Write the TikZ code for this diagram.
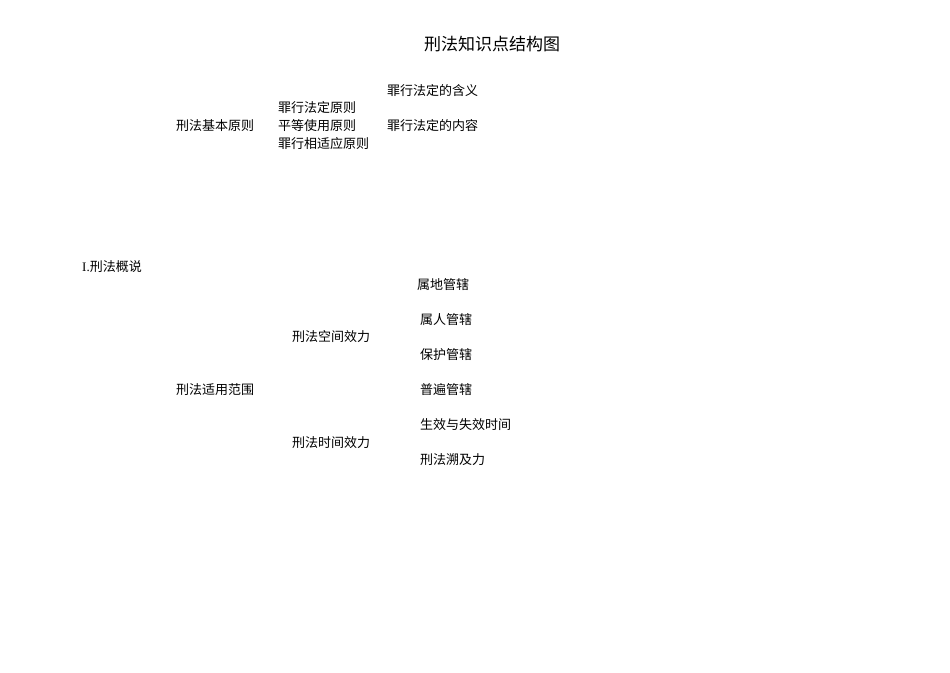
\documentclass[tikz,border=0pt]{standalone}
\usepackage{fontspec}
\setmainfont{Liberation Serif}
\newfontfamily\cjk{Noto Sans CJK SC}
\begin{document}
\begin{tikzpicture}[x=1pt,y=-1pt,
  lbl/.style={anchor=west,inner sep=0pt,font=\cjk\fontsize{13}{15}\selectfont}]
\useasboundingbox (0,0) rectangle (950,672);
\node[inner sep=0pt,font=\cjk\fontsize{17}{19}\selectfont] (title) at (492,44) {刑法知识点结构图};
\node[lbl] (a1) at (387,91) {罪行法定的含义};
\node[lbl] (a2) at (176,126) {刑法基本原则};
\node[lbl] (a3) at (278,108) {罪行法定原则};
\node[lbl] (a4) at (278,126) {平等使用原则};
\node[lbl] (a5) at (278,144) {罪行相适应原则};
\node[lbl] (a6) at (387,126) {罪行法定的内容};
\node[lbl] (b0) at (82,267) {{\fontspec{Liberation Serif}I.}刑法概说};
\node[lbl] (b1) at (417,285) {属地管辖};
\node[lbl] (b2) at (420,320) {属人管辖};
\node[lbl] (b3) at (292,337) {刑法空间效力};
\node[lbl] (b4) at (420,355) {保护管辖};
\node[lbl] (b5) at (420,390) {普遍管辖};
\node[lbl] (b6) at (176,390) {刑法适用范围};
\node[lbl] (b7) at (420,425) {生效与失效时间};
\node[lbl] (b8) at (292,443) {刑法时间效力};
\node[lbl] (b9) at (420,460) {刑法溯及力};
\end{tikzpicture}
\end{document}
